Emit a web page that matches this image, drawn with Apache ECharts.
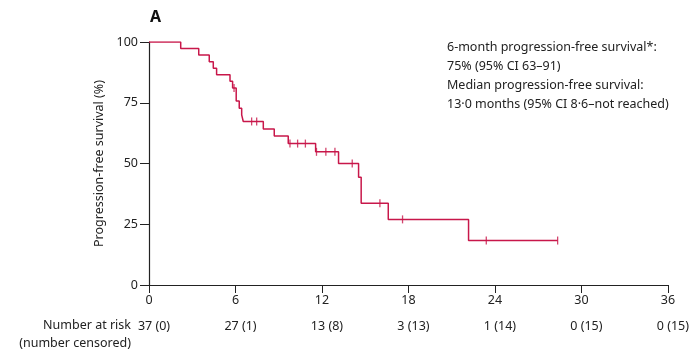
<!DOCTYPE html>
<html>
<head>
<meta charset="utf-8">
<script src="https://cdn.jsdelivr.net/npm/echarts@6/dist/echarts.min.js"></script>
<style>
  html, body { margin: 0; padding: 0; background: #fff; }
  #chart { width: 692px; height: 351px; }
</style>
</head>
<body>
<div id="chart"></div>
<script>
// Kaplan-Meier steps (months, % progression-free)
var kmTimes = [0, 2.2, 3.45, 4.18, 4.46, 4.69, 5.62, 5.8, 6.05, 6.26, 6.43, 6.54, 7.93, 8.69, 9.66, 11.56, 13.15, 14.54, 14.72, 16.6, 22.17, 28.35];
var kmSurv  = [100, 97.3, 94.6, 91.9, 89.2, 86.5, 83.8, 81.1, 75.7, 72.7, 70.0, 67.3, 64.2, 61.3, 58.2, 54.8, 50.0, 44.3, 33.6, 27.0, 18.3, 18.3];

// censored observations
var censorTimes = [5.9, 7.12, 7.47, 9.78, 10.31, 10.85, 11.62, 12.27, 12.9, 14.1, 16.02, 17.59, 23.4, 28.35];
var censorSurv  = [81.1, 67.3, 67.3, 58.2, 58.2, 58.2, 54.8, 54.8, 54.8, 50.0, 33.6, 27.0, 18.3, 18.3];

// number at risk table
var riskTimes = [0, 6, 12, 18, 24, 30, 36];
var atRisk    = [37, 27, 13, 3, 1, 0, 0];
var censored  = [0, 1, 8, 13, 14, 15, 15];

var yTicks = [0, 25, 50, 75, 100];

var red = '#c8174a';
var font = 'Noto Sans';
var txt = '#222';

var kmData = kmTimes.map(function (t, i) { return [t, kmSurv[i]]; });
var censorData = censorTimes.map(function (t, i) { return [t, censorSurv[i]]; });

var myChart = echarts.init(document.getElementById('chart'));
myChart.setOption({
    animation: false,
    textStyle: { fontFamily: font },
    grid: { left: 149, right: 24, top: 42, bottom: 66, containLabel: false },
    xAxis: [{
        type: 'value',
        min: 0, max: 36, interval: 6,
        axisLine: { show: true, lineStyle: { color: '#222', width: 1.2 } },
        axisTick: { show: true, length: 8, lineStyle: { color: '#222' } },
        splitLine: { show: false },
        axisLabel: { color: txt, fontSize: 12.5, fontFamily: font, margin: 9 }
    }, {
        type: 'value',
        position: 'bottom',
        offset: 33,
        min: 0, max: 36, interval: 6,
        axisLine: { show: false },
        axisTick: { show: false },
        splitLine: { show: false },
        axisLabel: {
            color: txt, fontSize: 12.5, fontFamily: font, margin: 2,
            padding: [0, 0, 0, 10],
            formatter: function (v) {
                var i = riskTimes.indexOf(v);
                return i < 0 ? '' : atRisk[i] + ' (' + censored[i] + ')';
            }
        }
    }],
    yAxis: {
        type: 'value',
        min: 0, max: 100, interval: 25,
        name: 'Progression-free survival (%)',
        nameLocation: 'middle',
        nameGap: 42,
        nameRotate: 90,
        nameTextStyle: { color: txt, fontSize: 12.5, fontFamily: font },
        axisLine: { show: true, lineStyle: { color: '#222', width: 1.2 } },
        axisTick: { show: true, length: 9, lineStyle: { color: '#222' } },
        splitLine: { show: false },
        axisLabel: {
            color: txt, fontSize: 12.5, fontFamily: font, margin: 11,
            formatter: function (v) { return yTicks.indexOf(v) >= 0 ? String(v) : ''; }
        }
    },
    series: [{
        type: 'line',
        step: 'end',
        data: kmData,
        showSymbol: false,
        lineStyle: { color: red, width: 1.5 },
        z: 3
    }, {
        type: 'scatter',
        data: censorData,
        symbol: 'rect',
        symbolSize: [1.3, 8],
        itemStyle: { color: red },
        z: 4
    }],
    graphic: [{
        type: 'text', left: 150, top: 9,
        style: { text: 'A', font: 'bold 16px "Noto Sans"', fill: '#111' }
    }, {
        type: 'text', left: 447, top: 38,
        style: {
            text: '6-month progression-free survival*:\n75% (95% CI 63–91)\nMedian progression-free survival:\n13·0 months (95% CI 8·6–not reached)',
            font: '12.5px "Noto Sans"', fill: txt, lineHeight: 19
        }
    }, {
        type: 'text', x: 131, y: 316,
        style: {
            text: 'Number at risk\n(number censored)',
            font: '12.5px "Noto Sans"', fill: txt, lineHeight: 18, align: 'right'
        }
    }]
});
</script>
</body>
</html>
